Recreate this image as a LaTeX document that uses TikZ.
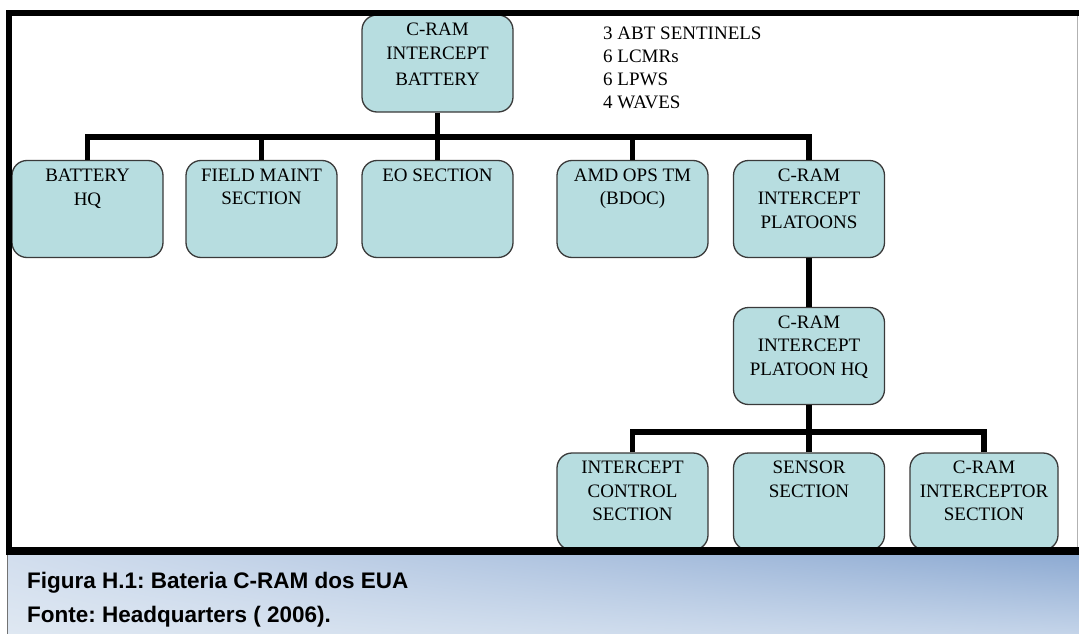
\documentclass[tikz,border=0pt]{standalone}
\usepackage{fontspec}
\setmainfont{Liberation Serif}
\newfontfamily\capfont{Liberation Sans}
\usetikzlibrary{shadings}
\frenchspacing
\definecolor{boxfill}{HTML}{B7DDE0}
\definecolor{boxline}{HTML}{3A3A3A}
\definecolor{bandUL}{HTML}{D2DEEE}
\definecolor{bandUR}{HTML}{8DAAD2}
\definecolor{bandLL}{HTML}{DFE8F2}
\definecolor{bandLR}{HTML}{C4D4E9}
\tikzset{
  orgbox/.style={draw=boxline, line width=1.3pt, fill=boxfill, rounded corners=15pt,
    minimum width=151pt, minimum height=97pt, inner sep=0pt},
  boxtext/.style={anchor=north, align=center, inner sep=0pt, yshift=-8.5pt,
    font=\fontsize{19}{23.5}\selectfont},
  conn/.style={line width=5.5pt, black},
  frameline/.style={line width=6pt, black},
}
\begin{document}
\begin{tikzpicture}[x=1pt,y=-1pt]
\useasboundingbox (0,0) rectangle (1079,634);
\fill[white] (0,0) rectangle (1079,634);

% boxes
\node[orgbox] (top) at (437.5,63.5) {};
\node[orgbox] (bh) at (87.5,209) {};
\node[orgbox] (fm) at (261.5,209) {};
\node[orgbox] (eo) at (437.5,209) {};
\node[orgbox] (amd) at (632.5,209) {};
\node[orgbox] (plat) at (809,209) {};
\node[orgbox] (phq) at (809,356) {};
\node[orgbox] (ics) at (632.5,501.5) {};
\node[orgbox] (sen) at (809,501.5) {};
\node[orgbox, minimum width=148pt] (cis) at (984,501.5) {};

% texts
\node[boxtext] (ttop) at (top.north) {C-RAM\\INTERCEPT\\[3pt]BATTERY};
\node[boxtext] (tbh) at (bh.north) {BATTERY\\[1pt]HQ};
\node[boxtext] (tfm) at (fm.north) {FIELD MAINT\\SECTION};
\node[boxtext] (teo) at (eo.north) {EO SECTION};
\node[boxtext] (tamd) at (amd.north) {AMD OPS TM\\(BDOC)};
\node[boxtext] (tplat) at (plat.north) {C-RAM\\INTERCEPT\\PLATOONS};
\node[boxtext] (tphq) at (phq.north) {C-RAM\\INTERCEPT\\PLATOON HQ};
\node[boxtext] (tics) at (ics.north) {INTERCEPT\\CONTROL\\SECTION};
\node[boxtext] (tsen) at (sen.north) {SENSOR\\SECTION};
\node[boxtext] (tcis) at (cis.north) {C-RAM\\INTERCEPTOR\\SECTION};

\node[anchor=north west, align=left, inner sep=0pt, font=\fontsize{19}{23}\selectfont] (list) at (603,27)
  {3 ABT SENTINELS\\6 LCMRs\\6 LPWS\\4 WAVES};

% connectors
\coordinate (b1) at (437.5,137);
\coordinate (b2) at (809,432);
\draw[conn] (top.south) -- (b1);
\draw[conn] (bh.north) |- (b1);
\draw[conn] (plat.north) |- (b1);
\draw[conn] (fm.north) -- (fm.north |- b1);
\draw[conn] (eo.north) -- (eo.north |- b1);
\draw[conn] (amd.north) -- (amd.north |- b1);
\draw[conn] (plat.south) -- (phq.north);
\draw[conn] (phq.south) -- (b2);
\draw[conn] (ics.north) |- (b2);
\draw[conn] (cis.north) |- (b2);
\draw[conn] (sen.north) -- (b2);

% caption band
\shade[upper left=bandUL, upper right=bandUR, lower left=bandLL, lower right=bandLR]
  (7,555) rectangle (1079,634);
\draw[black!55, line width=1pt] (7,555) -- (7,634);
\draw[black!30, line width=1pt] (1077.5,13) -- (1077.5,548);

% frame
\draw[frameline] (9,555) -- (9,13) -- (1079,13);
\draw[black, line width=8pt] (6,551) -- (1079,551);

\node[anchor=west, inner sep=0pt, font=\capfont\bfseries\fontsize{22.5}{27}\selectfont] (cap1) at (27,583) {Figura H.1: Bateria C-RAM dos EUA};
\node[anchor=west, inner sep=0pt, font=\capfont\bfseries\fontsize{22.5}{27}\selectfont] (cap2) at (27,617) {Fonte: Headquarters ( 2006).};
\end{tikzpicture}
\end{document}
